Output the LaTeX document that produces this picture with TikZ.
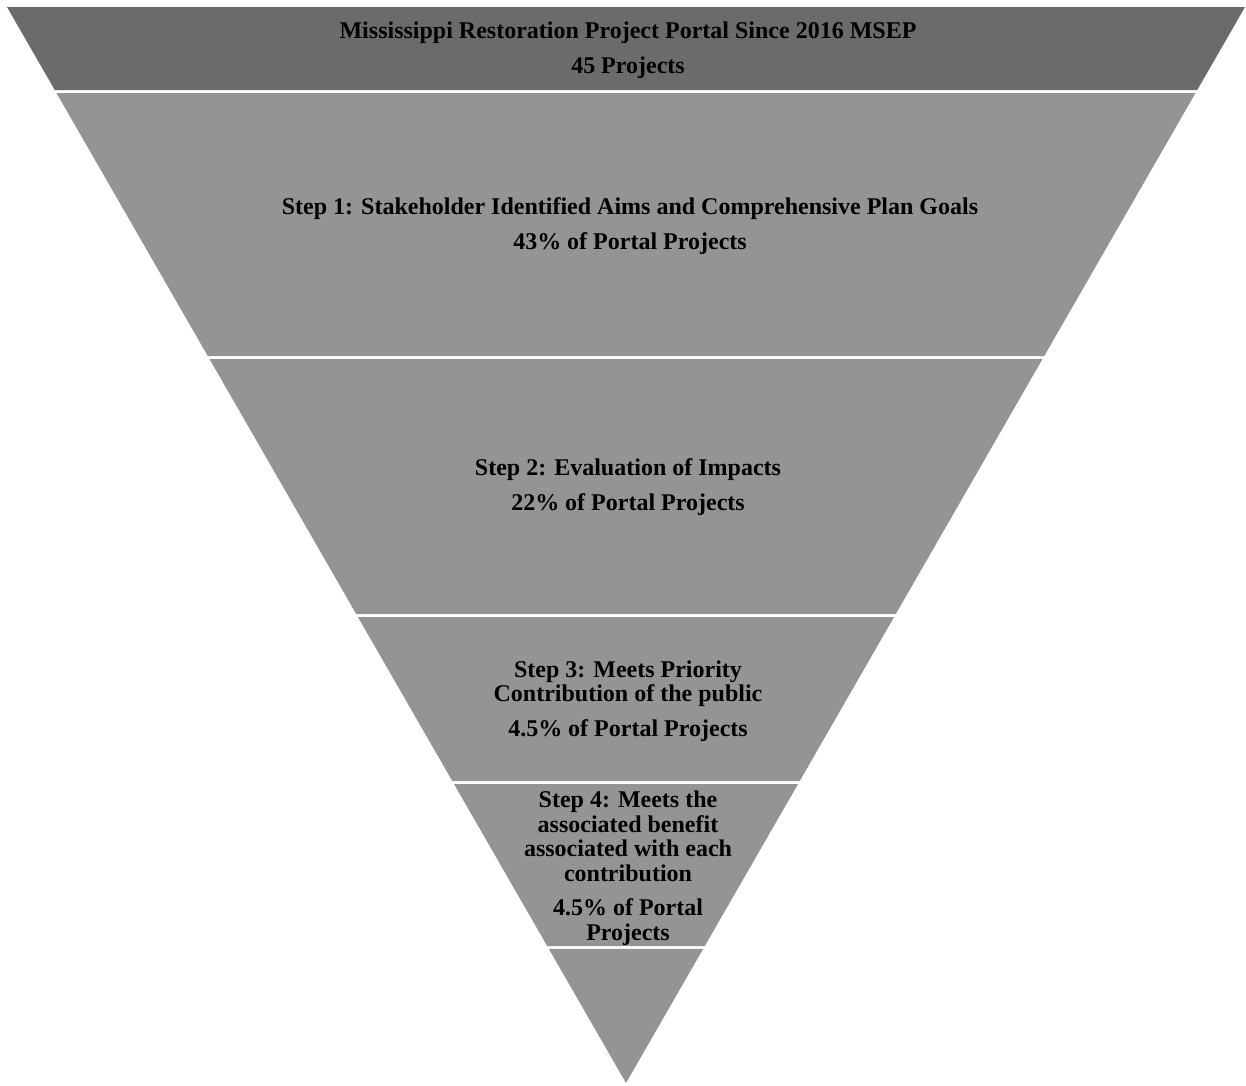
\documentclass[tikz,border=0pt]{standalone}
\usepackage{fontspec}
\setmainfont{Liberation Serif}
\usetikzlibrary{calc}
\tikzset{
  topband/.style={fill=black!58, draw=none},
  band/.style={fill=black!42, draw=none},
  lbl/.style={font=\bfseries\fontsize{24}{24.5}\selectfont, text=black, align=center, inner sep=0pt},
}
\newcommand{\myband}[3]{%
  \pgfmathsetmacro{\ta}{(1083-#1)/1076}%
  \pgfmathsetmacro{\tb}{(1083-#2)/1076}%
  \fill[#3] ($(A)!\ta!(TL)$) -- ($(A)!\ta!(TR)$) -- ($(A)!\tb!(TR)$) -- ($(A)!\tb!(TL)$) -- cycle;}
\begin{document}
\begin{tikzpicture}[x=1pt,y=-1pt]
\useasboundingbox (0,0) rectangle (1246,1085);
\coordinate (A) at (626,1083);
\coordinate (TL) at (7,7);
\coordinate (TR) at (1245,7);
\myband{7}{90}{topband}
\myband{93}{356}{band}
\myband{359}{614}{band}
\myband{617}{781}{band}
\myband{784}{946}{band}
\fill[band] ($(A)!0.1246!(TL)$) -- ($(A)!0.1246!(TR)$) -- (A) -- cycle;

\node[lbl] (t0) at (628,50) {Mississippi Restoration Project Portal Since 2016 MSEP\\[10pt]45 Projects};
\node[lbl] (t1) at (630,226) {Step 1: Stakeholder Identified Aims and Comprehensive Plan Goals\\[10pt]43\% of Portal Projects};
\node[lbl] (t2) at (628,487) {Step 2: Evaluation of Impacts\\[10pt]22\% of Portal Projects};
\node[lbl] (t3) at (628,701) {Step 3: Meets Priority\\Contribution of the public\\[10pt]4.5\% of Portal Projects};
\node[lbl] (t4) at (628,868) {Step 4: Meets the\\associated benefit\\associated with each\\contribution\\[10pt]4.5\% of Portal\\Projects};
\end{tikzpicture}
\end{document}
